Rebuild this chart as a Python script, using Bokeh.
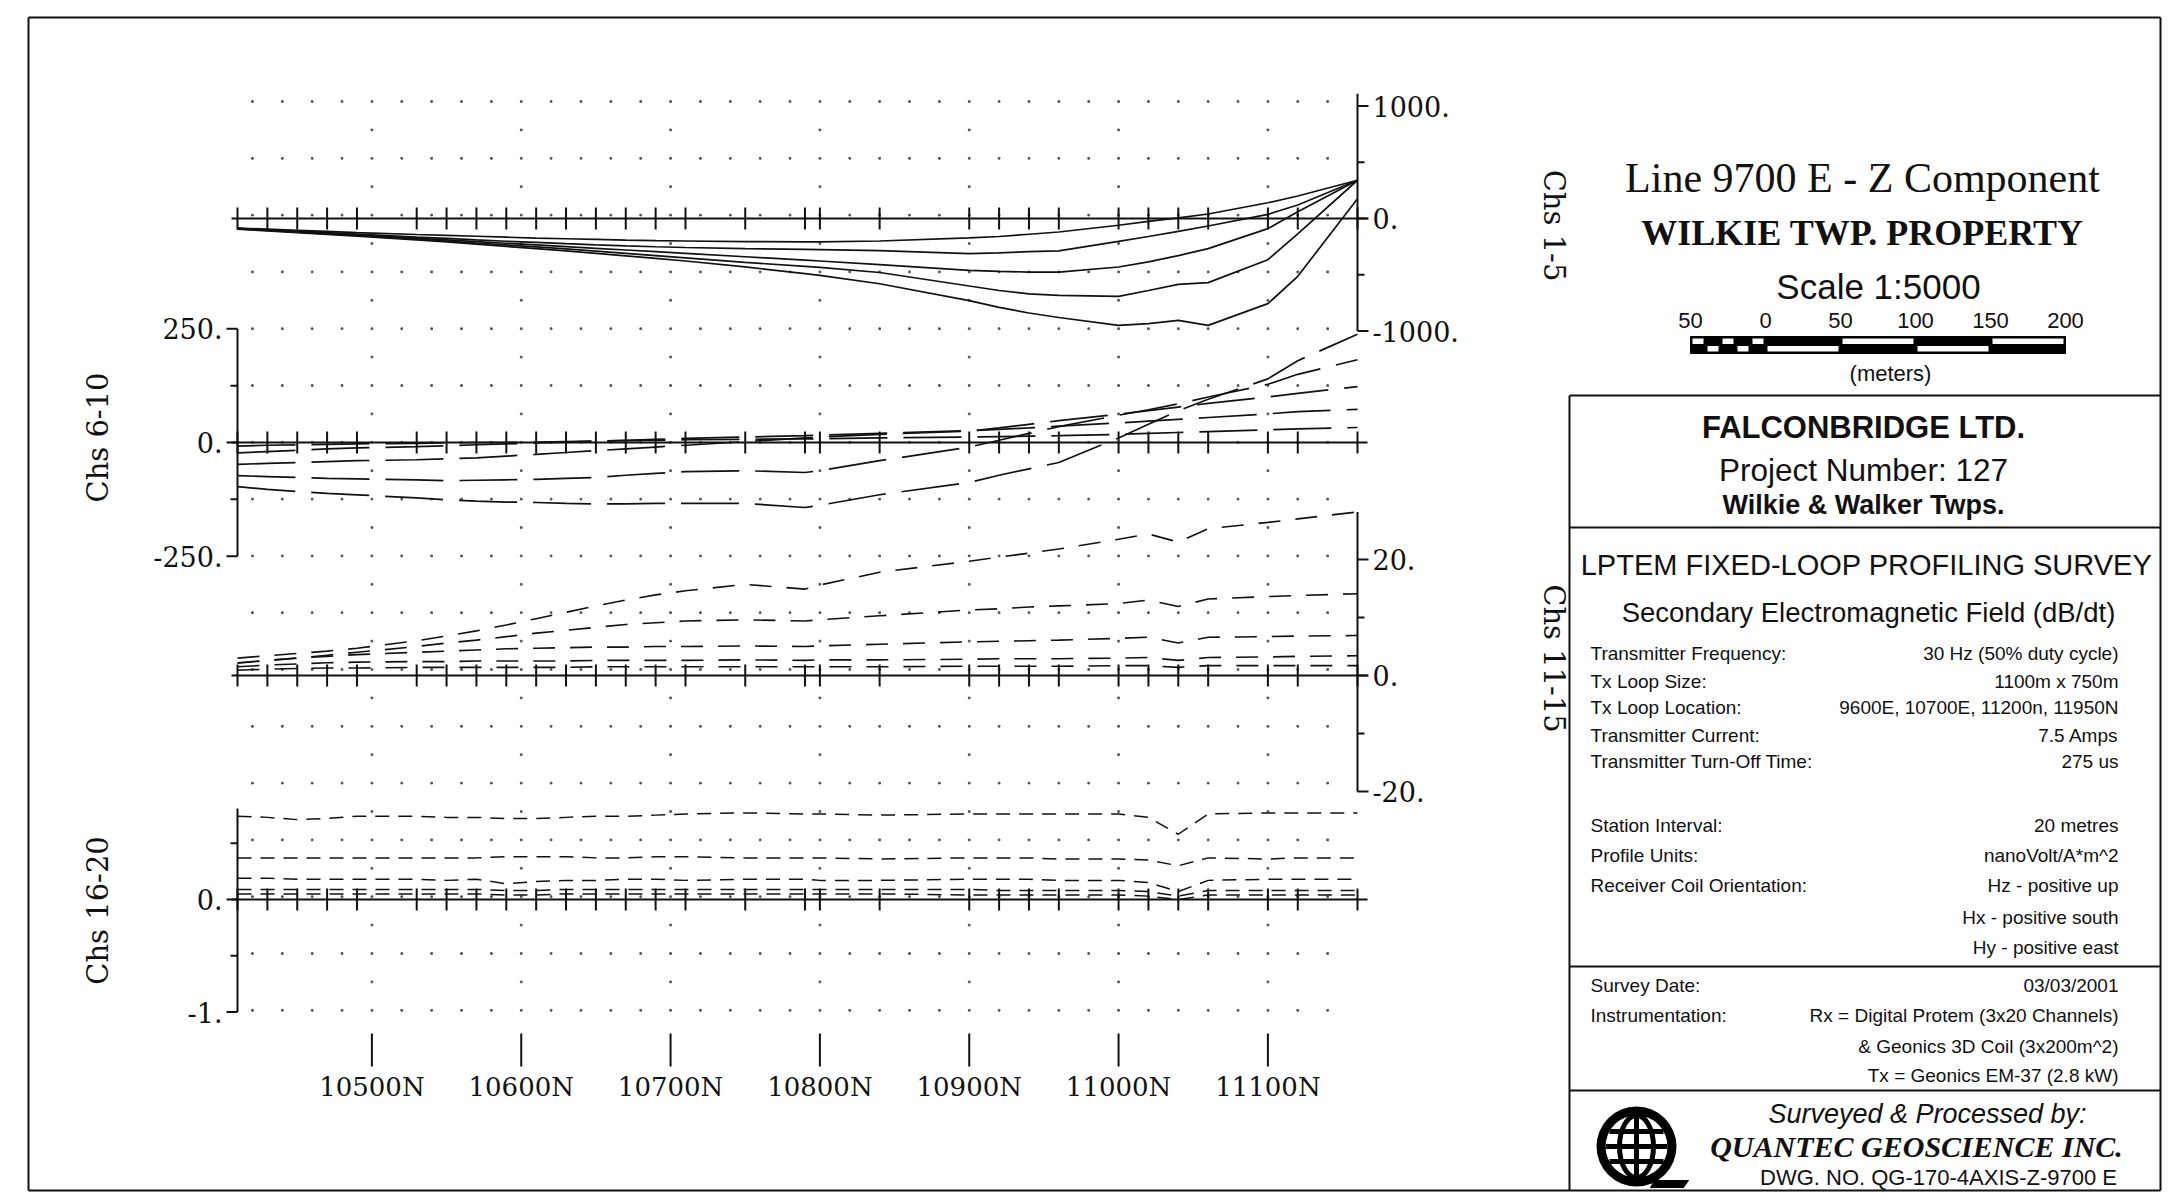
import math
from bokeh.plotting import figure
from bokeh.models import Range1d
from bokeh.core.properties import value
from bokeh.embed import file_html
from bokeh.resources import INLINE

# ---------------------------------------------------------------- data
stations = [10410, 10430, 10450, 10470, 10490, 10530, 10550, 10570, 10590, 10610,
            10630, 10650, 10670, 10690, 10710, 10750, 10790, 10800, 10840, 10900,
            10920, 10940, 10960, 11000, 11020, 11040, 11060, 11100, 11120, 11160]

# Chs 1-5 (solid)
ch01 = [-85, -95, -105, -115, -125, -142, -150, -158, -166, -174, -180, -186, -192, -197, -200,
        -205, -208, -208, -200, -172, -160, -140, -120, -60, -25, 5, 40, 140, 200, 340]
ch02 = [-88, -100, -113, -126, -138, -165, -177, -190, -202, -213, -224, -234, -243, -251, -258,
        -268, -275, -277, -285, -313, -305, -295, -287, -203, -160, -115, -67, 37, 120, 340]
ch03 = [-90, -103, -117, -131, -145, -175, -190, -205, -220, -235, -250, -265, -280, -295, -310,
        -340, -370, -378, -410, -461, -470, -476, -476, -431, -385, -330, -268, -90, 60, 340]
ch04 = [-92, -106, -121, -136, -151, -183, -200, -218, -235, -252, -270, -290, -310, -330, -350,
        -390, -425, -435, -480, -600, -640, -670, -683, -692, -640, -585, -570, -366, -136, 340]
ch05 = [-95, -110, -125, -141, -157, -190, -208, -228, -248, -268, -288, -310, -332, -355, -378,
        -430, -490, -505, -580, -730, -790, -840, -880, -950, -935, -905, -950, -757, -514, 176]

# Chs 6-10 (long dash)
ch06 = [-97, -103, -108, -112, -115, -122, -126, -129, -131, -132, -134, -135, -135, -134, -134,
        -134, -143, -138, -115, -88, -72, -58, -44, 10, 40, 70, 95, 140, 180, 238]
ch07 = [-73, -75, -77, -79, -80, -82, -84, -83, -82, -81, -79, -77, -72, -68, -64,
        -62, -66, -62, -40, -10, 5, 20, 35, 60, 72, 85, 100, 128, 150, 182]
ch08 = [-48, -46, -44, -42, -40, -38, -36, -34, -30, -26, -22, -18, -14, -10, -6,
        2, 10, 12, 18, 25, 32, 40, 48, 62, 70, 78, 86, 100, 108, 123]
ch09 = [-23, -20, -17, -14, -12, -9, -7, -5, -3, -1, 1, 3, 5, 7, 9,
        12, 15, 16, 20, 26, 29, 32, 36, 43, 47, 51, 55, 63, 68, 73]
ch10 = [-8, -6, -5, -4, -3, -2, -1, 0, 0, 1, 2, 3, 4, 5, 6,
        7, 8, 8, 10, 12, 13, 14, 15, 18, 20, 22, 24, 28, 30, 33]

# Chs 11-15 (dash)
ch11 = [3.0, 3.4, 3.8, 4.2, 4.7, 6.0, 6.8, 7.7, 8.7, 9.8, 10.9, 12.0, 13.0, 13.9, 14.6,
        15.7, 14.9, 15.6, 17.8, 19.7, 20.4, 21.1, 21.8, 23.5, 24.4, 23.0, 25.3, 26.4, 27.0, 28.2]
ch12 = [2.2, 2.6, 3.0, 3.5, 4.0, 5.0, 5.6, 6.1, 6.7, 7.3, 7.8, 8.3, 8.8, 9.1, 9.4,
        9.6, 9.4, 9.6, 10.3, 11.3, 11.5, 11.8, 12.0, 12.4, 13.0, 11.9, 13.2, 13.6, 13.8, 14.1]
ch13 = [2.1, 2.6, 3.0, 3.3, 3.6, 4.0, 4.2, 4.4, 4.6, 4.7, 4.8, 4.9, 4.9, 5.0, 5.0,
        5.1, 5.0, 5.1, 5.4, 5.8, 5.9, 6.0, 6.1, 6.4, 6.6, 5.6, 6.6, 6.7, 6.8, 6.9]
ch14 = [1.5, 1.8, 2.0, 2.2, 2.3, 2.4, 2.4, 2.5, 2.5, 2.5, 2.5, 2.6, 2.6, 2.6, 2.6,
        2.7, 2.6, 2.7, 2.7, 2.8, 2.9, 2.9, 2.9, 3.0, 3.1, 2.6, 3.1, 3.2, 3.3, 3.4]
ch15 = [0.9, 1.1, 1.2, 1.3, 1.3, 1.4, 1.4, 1.4, 1.4, 1.4, 1.4, 1.5, 1.5, 1.5, 1.5,
        1.5, 1.5, 1.5, 1.5, 1.6, 1.6, 1.6, 1.6, 1.7, 1.7, 1.4, 1.7, 1.7, 1.7, 1.7]

# Chs 16-20 (short dash)
ch16 = [0.74, 0.73, 0.71, 0.72, 0.74, 0.74, 0.73, 0.73, 0.72, 0.72, 0.73, 0.74, 0.74, 0.75, 0.76,
        0.77, 0.76, 0.76, 0.75, 0.76, 0.76, 0.76, 0.76, 0.76, 0.73, 0.58, 0.76, 0.77, 0.77, 0.77]
ch17 = [0.37, 0.37, 0.37, 0.37, 0.37, 0.37, 0.37, 0.37, 0.38, 0.38, 0.38, 0.37, 0.37, 0.38, 0.38,
        0.37, 0.37, 0.37, 0.36, 0.37, 0.37, 0.37, 0.36, 0.36, 0.35, 0.30, 0.37, 0.36, 0.37, 0.37]
ch18 = [0.19, 0.19, 0.18, 0.18, 0.18, 0.18, 0.17, 0.18, 0.14, 0.16, 0.17, 0.17, 0.18, 0.18, 0.17,
        0.18, 0.18, 0.17, 0.17, 0.18, 0.18, 0.18, 0.17, 0.17, 0.15, 0.07, 0.17, 0.18, 0.18, 0.18]
ch19 = [0.09, 0.09, 0.09, 0.09, 0.09, 0.09, 0.09, 0.09, 0.08, 0.08, 0.09, 0.09, 0.09, 0.09, 0.09,
        0.09, 0.09, 0.09, 0.09, 0.09, 0.08, 0.08, 0.08, 0.08, 0.07, 0.03, 0.08, 0.08, 0.08, 0.08]
ch20 = [0.05, 0.05, 0.05, 0.05, 0.05, 0.05, 0.05, 0.05, 0.04, 0.04, 0.05, 0.05, 0.05, 0.05, 0.05,
        0.05, 0.05, 0.05, 0.05, 0.04, 0.04, 0.04, 0.04, 0.04, 0.03, 0.00, 0.04, 0.04, 0.04, 0.04]

x_ticks = [10500, 10600, 10700, 10800, 10900, 11000, 11100]
x_tick_labels = ["10500N", "10600N", "10700N", "10800N", "10900N", "11000N", "11100N"]

p1_ticks, p1_labels, p1_minor = [1000, 0, -1000], ["1000.", "0.", "-1000."], [500, -500]
p2_ticks, p2_labels, p2_minor = [250, 0, -250], ["250.", "0.", "-250."], [125, -125]
p3_ticks, p3_labels, p3_minor = [20, 0, -20], ["20.", "0.", "-20."], [10, -10]
p4_ticks, p4_labels, p4_minor = [0, -1], ["0.", "-1."], [0.5, -0.5]
panel_names = ["Chs 1-5", "Chs 6-10", "Chs 11-15", "Chs 16-20"]

scale_bar_ticks = [-50, 0, 50, 100, 150, 200]
scale_bar_labels = ["50", "0", "50", "100", "150", "200"]

details_left = ["Transmitter Frequency:", "Tx Loop Size:", "Tx Loop Location:",
                "Transmitter Current:", "Transmitter Turn-Off Time:", "Station Interval:",
                "Profile Units:", "Receiver Coil Orientation:"]
details_right = ["30 Hz (50% duty cycle)", "1100m x 750m", "9600E, 10700E, 11200n, 11950N",
                 "7.5 Amps", "275 us", "20 metres", "nanoVolt/A*m^2", "Hz - positive up",
                 "Hx - positive south", "Hy - positive east"]
survey_left = ["Survey Date:", "Instrumentation:"]
survey_right = ["03/03/2001", "Rx = Digital Protem (3x20 Channels)",
                "& Geonics 3D Coil (3x200m^2)", "Tx = Geonics EM-37 (2.8 kW)"]

# ---------------------------------------------------------------- layout
W, H = 2174, 1204
X_LEFT, X_RIGHT = 237.0, 1357.0
M0, M1 = stations[0], stations[-1]
KX = (X_RIGHT - X_LEFT) / (M1 - M0)
PANEL = {"p1": (218.0, 0.1125), "p2": (442.0, 0.4546), "p3": (675.0, 5.8), "p4": (899.0, 112.5)}
INK = "#111111"
SERIF = "DejaVu Serif"
SANS = "Liberation Sans"

p = figure(width=W, height=H, output_backend="svg", toolbar_location=None,
           x_range=Range1d(0, W), y_range=Range1d(H, 0), title=None,
           x_axis_location=None, y_axis_location=None, min_border=0)
p.grid.visible = False
p.outline_line_color = None
p.background_fill_color = "white"
p.border_fill_color = "white"
p.extra_x_ranges = {"m": Range1d(M0 - X_LEFT / KX, M0 + (W - X_LEFT) / KX)}
p.extra_y_ranges = {k: Range1d((y0 - H) / s, y0 / s) for k, (y0, s) in PANEL.items()}


def txt(x, y, s, size, font=SANS, style="normal", align="left", baseline="middle",
        angle=0.0, **kw):
    p.text(x=[x], y=[y], text=[s], text_font=value(font), text_font_size=f"{size}px",
           text_font_style=style, text_align=align, text_baseline=baseline,
           angle=angle, text_color=INK, **kw)


# dotted background grid
dot_full = list(range(10420, 11141, 20))
dot_sparse = list(range(10500, 11101, 100))
gx, gy = [], []
for k in range(33):
    yy = 101.0 + k * 28.4
    cols = dot_full if k % 2 == 0 else dot_sparse
    gx += cols
    gy += [yy] * len(cols)
p.scatter(gx, gy, x_range_name="m", marker="square", size=1.7, color="#555555")

# baselines with station ticks
n = len(stations)
for rng, (y0, s) in PANEL.items():
    kw = dict(x_range_name="m", y_range_name=rng, line_color=INK, line_width=2)
    p.segment(x0=[M0 - 6 / KX], y0=[0], x1=[M1 + 10 / KX], y1=[0], **kw)
    half = 11.0 / s
    p.segment(x0=stations, y0=[-half] * n, x1=stations, y1=[half] * n, **kw)

# profiles
for ch in (ch01, ch02, ch03, ch04, ch05):
    p.line(stations, ch, x_range_name="m", y_range_name="p1", line_color=INK, line_width=1.7)
for ch in (ch06, ch07, ch08, ch09, ch10):
    p.line(stations, ch, x_range_name="m", y_range_name="p2", line_color=INK, line_width=1.7,
           line_dash="58 16")
for ch in (ch11, ch12, ch13, ch14, ch15):
    p.line(stations, ch, x_range_name="m", y_range_name="p3", line_color=INK, line_width=1.6,
           line_dash="22 15")
for ch in (ch16, ch17, ch18, ch19, ch20):
    p.line(stations, ch, x_range_name="m", y_range_name="p4", line_color=INK, line_width=1.5,
           line_dash="14 9")


def axis(rng, side, lo, hi, major, labels, minor):
    xm = M1 if side == "right" else M0
    d = 1 if side == "right" else -1
    kw = dict(x_range_name="m", y_range_name=rng, line_color=INK, line_width=2)
    p.segment(x0=[xm], y0=[lo], x1=[xm], y1=[hi], **kw)
    p.segment(x0=[xm] * len(major), y0=major, x1=[xm + d * 11 / KX] * len(major), y1=major, **kw)
    p.segment(x0=[xm] * len(minor), y0=minor, x1=[xm + d * 7 / KX] * len(minor), y1=minor, **kw)
    p.text(x=[xm + d * 15 / KX] * len(major), y=major, text=labels, x_range_name="m",
           y_range_name=rng, text_align="left" if d > 0 else "right", text_baseline="middle",
           text_font=value(SERIF), text_font_size="27px", text_color=INK)


axis("p1", "right", -1000, 1110, p1_ticks, p1_labels, p1_minor)
axis("p2", "left", -250, 250, p2_ticks, p2_labels, p2_minor)
axis("p3", "right", -20, 28.2, p3_ticks, p3_labels, p3_minor)
axis("p4", "left", -1, 0.81, p4_ticks, p4_labels, p4_minor)

# panel names
txt(1553, 225, panel_names[0], 29, SERIF, align="center", angle=-math.pi / 2)
txt(97, 437, panel_names[1], 29, SERIF, align="center", angle=math.pi / 2)
txt(1553, 658, panel_names[2], 29, SERIF, align="center", angle=-math.pi / 2)
txt(97, 910, panel_names[3], 29, SERIF, align="center", angle=math.pi / 2)

# x axis (station labels)
nt = len(x_ticks)
p.segment(x0=x_ticks, y0=[1033] * nt, x1=x_ticks, y1=[1066] * nt, x_range_name="m",
          line_color=INK, line_width=2)
p.text(x=x_ticks, y=[1086] * nt, text=x_tick_labels, x_range_name="m", text_align="center",
       text_baseline="middle", text_font=value(SERIF), text_font_size="26px", text_color=INK)

# ---------------------------------------------------------------- frames
FR_L, FR_T, FR_R, FR_B = 28, 17, 2160, 1190
BX_L = 1569
hx0 = [FR_L, FR_L, FR_L, FR_R, BX_L, BX_L, BX_L, BX_L, BX_L]
hy0 = [FR_T, FR_B, FR_T, FR_T, 395, 395, 527, 966, 1090]
hx1 = [FR_R, FR_R, FR_L, FR_R, BX_L, FR_R, FR_R, FR_R, FR_R]
hy1 = [FR_T, FR_B, FR_B, FR_B, FR_B, 395, 527, 966, 1090]
p.segment(x0=hx0, y0=hy0, x1=hx1, y1=hy1, line_color=INK, line_width=2)

# ---------------------------------------------------------------- title block
txt(1862, 177, "Line 9700 E - Z Component", 42, "Liberation Serif", align="center")
txt(1862, 232, "WILKIE TWP. PROPERTY", 36, "Liberation Serif", style="bold", align="center")
txt(1878, 286, "Scale 1:5000", 35, SANS, align="center")

SB0, SBK = 1765.0, 1.5
for t, lab in zip(scale_bar_ticks, scale_bar_labels):
    txt(SB0 + t * SBK, 320, lab, 22, SANS, align="center")
sb_l, sb_r, sb_t, sb_m, sb_b = SB0 - 50 * SBK, SB0 + 200 * SBK, 336, 344.5, 353
p.quad(left=[sb_l], right=[sb_r], top=[sb_t], bottom=[sb_b], fill_color="black", line_color="black")
cells = [(-50, -40, True), (-40, -30, False), (-30, -20, True), (-20, -10, False), (-10, 0, True),
         (0, 50, False), (50, 100, True), (100, 150, False), (150, 200, True)]
wl, wr, wt, wb = [], [], [], []
for a, b, top_white in cells:
    wl.append(SB0 + a * SBK + 2)
    wr.append(SB0 + b * SBK - 2)
    if top_white:
        wt.append(sb_t + 2); wb.append(sb_m - 1)
    else:
        wt.append(sb_m + 1); wb.append(sb_b - 2)
p.quad(left=wl, right=wr, top=wt, bottom=wb, fill_color="white", line_color=None)
txt(1890, 373, "(meters)", 22, SANS, align="center")

txt(1863, 427, "FALCONBRIDGE LTD.", 31, SANS, style="bold", align="center")
txt(1863, 469, "Project Number: 127", 31.5, SANS, align="center")
txt(1863, 504, "Wilkie & Walker Twps.", 27, SANS, style="bold", align="center")

txt(1866, 564, "LPTEM FIXED-LOOP PROFILING SURVEY", 29, SANS, align="center")
txt(1868, 612, "Secondary Electromagnetic Field (dB/dt)", 27.5, SANS, align="center")

row_y = [653, 681, 707, 735, 761, 825, 855, 884.5, 916.5, 947]
for s, yy in zip(details_left, row_y):
    txt(1590, yy, s, 19, SANS)
for s, yy in zip(details_right, row_y):
    txt(2118, yy, s, 19, SANS, align="right")

srow_y = [984.5, 1015, 1045.5, 1074.5]
for s, yy in zip(survey_left, srow_y):
    txt(1590, yy, s, 19, SANS)
for s, yy in zip(survey_right, srow_y):
    txt(2118, yy, s, 19, SANS, align="right")

txt(1927, 1113, "Surveyed & Processed by:", 27, SANS, style="italic", align="center")
txt(1916, 1146, "QUANTEC GEOSCIENCE INC.", 30, "Liberation Serif", style="bold italic", align="center")
txt(1938, 1177, "DWG. NO. QG-170-4AXIS-Z-9700 E", 22, SANS, align="center")

# logo (globe)
LX, LY = 1636, 1146
p.annulus(x=[LX], y=[LY], inner_radius=31, outer_radius=40, fill_color="black", line_color=None)
p.ellipse(x=[LX], y=[LY], width=34, height=62, fill_color=None, line_color="black", line_width=5)
p.segment(x0=[LX, LX - 31, LX - 27, LX - 27], y0=[LY - 31, LY, LY - 15, LY + 15],
          x1=[LX, LX + 31, LX + 27, LX + 27], y1=[LY + 31, LY, LY - 15, LY + 15],
          line_color="black", line_width=5)
p.patch(x=[LX + 18, LX + 52, LX + 47, LX + 14], y=[LY + 34, LY + 34, LY + 41, LY + 41],
        fill_color="black", line_color="black")

open("out.html", "w").write(file_html(p, INLINE))
